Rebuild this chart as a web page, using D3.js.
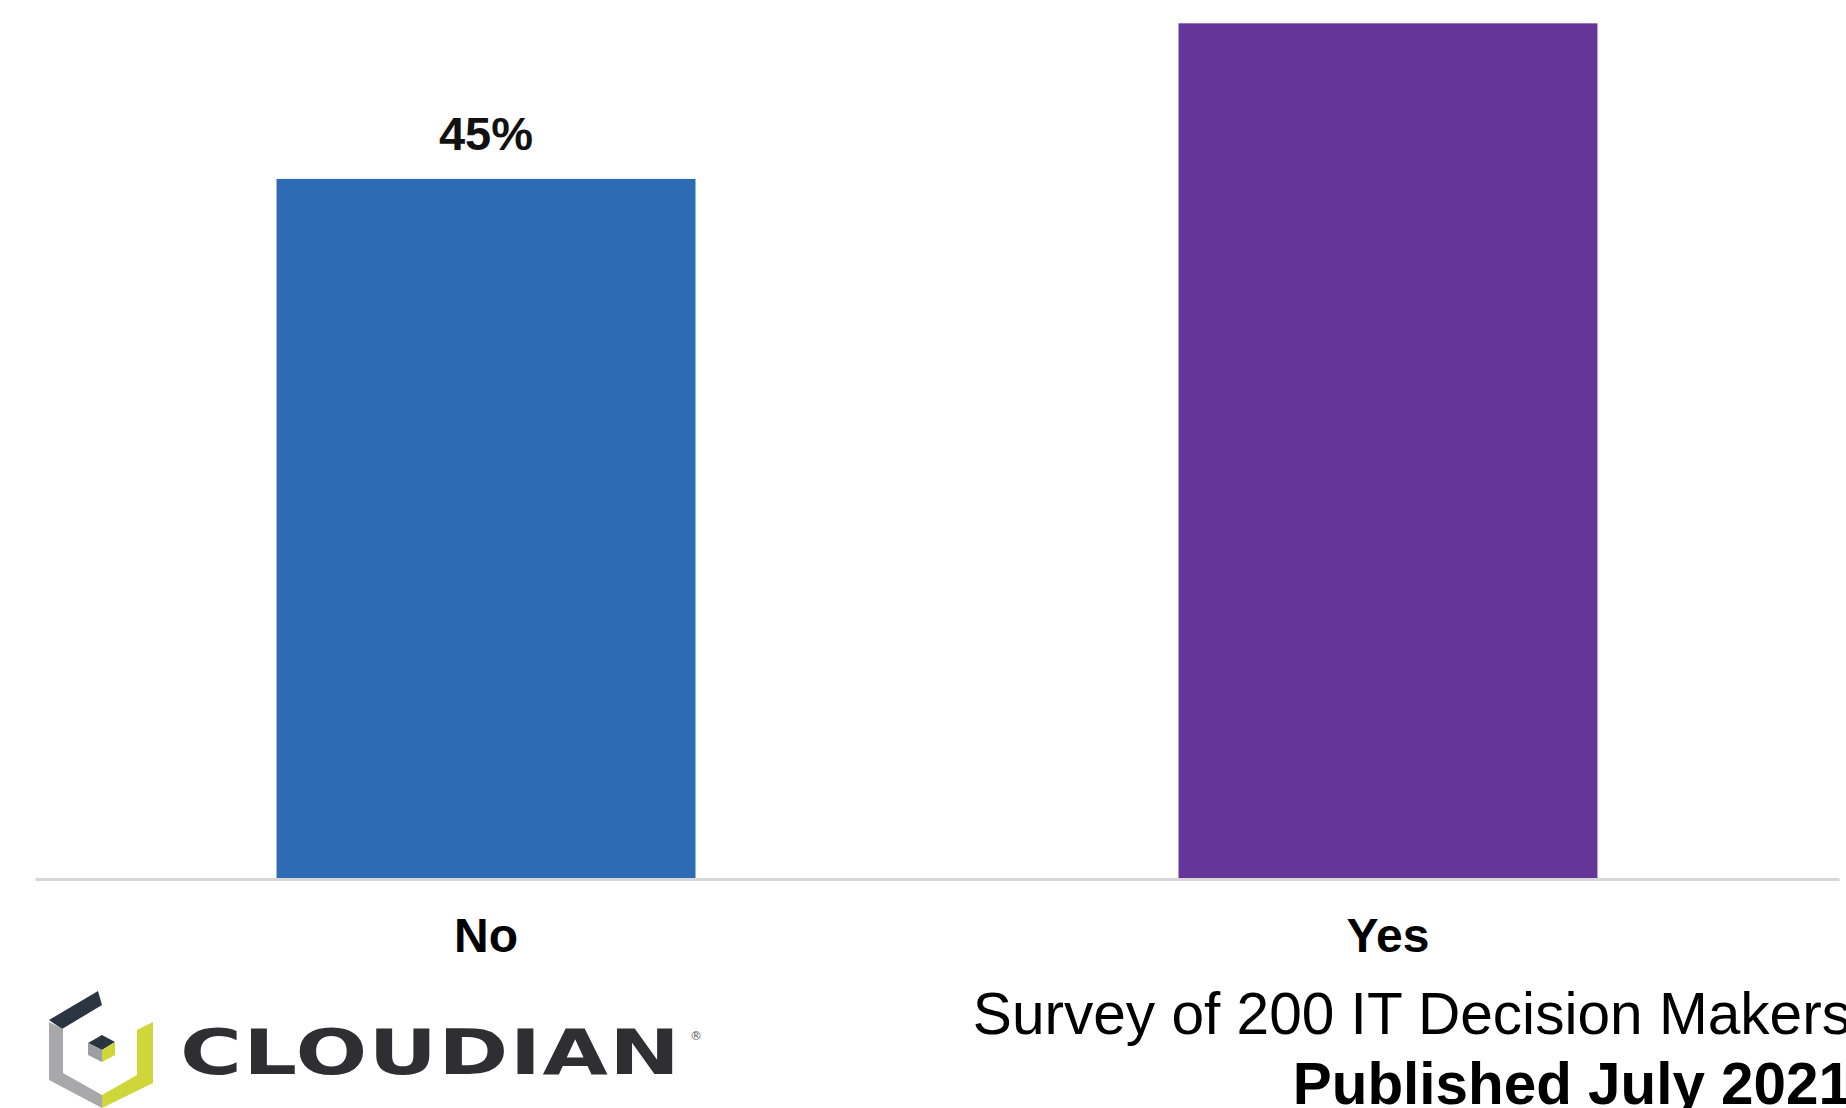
<!DOCTYPE html>
<html>
<head>
<meta charset="utf-8">
<script src="https://cdn.jsdelivr.net/npm/d3@7"></script>
<style>
  html, body { margin: 0; padding: 0; background: #ffffff; }
  svg { display: block; }
</style>
</head>
<body>
<svg id="chart" width="1846" height="1108"></svg>
<script>
// ---- data ----
const categories = ["No", "Yes"];
const values = [45, 55];
const valueLabels = ["45%", "55%"];
const barColors = ["#2d6cb4", "#653599"];
const footnoteLines = ["Survey of 200 IT Decision Makers", "Published July 2021"];
const brandName = "CLOUDIAN";

const W = 1846, H = 1108;
const svg = d3.select("#chart");
const baseY = 879;

const x = d3.scaleBand()
  .domain(categories)
  .range([35, 1839])
  .paddingInner(0.5355)
  .paddingOuter(0.2678);

const y = d3.scaleLinear()
  .domain([0, 56.5])
  .range([baseY, 0]);

const data = categories.map((c, i) => ({ cat: c, v: values[i], label: valueLabels[i], color: barColors[i] }));

// bars
svg.append("g").selectAll("rect").data(data).join("rect")
  .attr("x", d => x(d.cat))
  .attr("y", d => y(d.v))
  .attr("width", x.bandwidth())
  .attr("height", d => baseY - y(d.v))
  .attr("fill", d => d.color);

// axis
const axis = svg.append("g")
  .attr("transform", `translate(0,${baseY})`)
  .call(d3.axisBottom(x).tickSize(0).tickPadding(39));
axis.select(".domain").attr("stroke", "#d6d6d6").attr("stroke-width", 3);
axis.selectAll(".tick text")
  .attr("font-family", "Liberation Sans, Arial, sans-serif")
  .attr("font-weight", "bold")
  .attr("font-size", 48)
  .attr("fill", "#000");

// value labels
svg.append("g").selectAll("text").data(data).join("text")
  .attr("x", d => x(d.cat) + x.bandwidth() / 2)
  .attr("y", d => y(d.v) - 29)
  .attr("text-anchor", "middle")
  .attr("font-family", "Liberation Sans, Arial, sans-serif")
  .attr("font-weight", "bold")
  .attr("font-size", 47)
  .attr("fill", "#111")
  .text(d => d.label);

// footnote
svg.append("text")
  .attr("x", 1851).attr("y", 1034)
  .attr("text-anchor", "end")
  .attr("font-family", "Liberation Sans, Arial, sans-serif")
  .attr("font-size", 58.6)
  .attr("fill", "#000")
  .text(footnoteLines[0]);
svg.append("text")
  .attr("x", 1851).attr("y", 1104)
  .attr("text-anchor", "end")
  .attr("font-family", "Liberation Sans, Arial, sans-serif")
  .attr("font-weight", "bold")
  .attr("font-size", 58.4)
  .attr("fill", "#000")
  .text(footnoteLines[1]);

// logo icon
const logo = svg.append("g");
const poly = (pts, fill) => logo.append("polygon").attr("points", pts.map(p => p.join(",")).join(" ")).attr("fill", fill);
poly([[49,1020],[98,991],[102,1005],[62,1029]], "#2b3441");
poly([[49,1022],[63,1029],[63,1073],[102,1095],[102,1108],[49,1080]], "#a8a8aa");
poly([[102,1095],[137,1075],[137,1030],[153,1022],[153,1083],[102,1108]], "#cfd63a");
poly([[88,1043],[102,1035],[115,1042],[102,1050]], "#2b3441");
poly([[88,1043],[102,1050],[102,1062],[88,1055]], "#9c9ea3");
poly([[102,1050],[115,1042],[115,1055],[102,1062]], "#cfd63a");

// wordmark (horizontally stretched for the wide logo letterforms)
svg.append("g")
  .attr("transform", "translate(180,1074) scale(1.34,1)")
  .append("text")
  .attr("x", 0).attr("y", 0)
  .attr("font-family", "DejaVu Sans, sans-serif")
  .attr("font-weight", "bold")
  .attr("font-size", 63)
  .attr("fill", "#2f2f33")
  .attr("textLength", 373)
  .attr("lengthAdjust", "spacing")
  .text(brandName);
svg.append("text")
  .attr("x", 690).attr("y", 1040)
  .attr("font-family", "DejaVu Sans, sans-serif")
  .attr("font-size", 12)
  .attr("fill", "#555")
  .text("®");
</script>
</body>
</html>
